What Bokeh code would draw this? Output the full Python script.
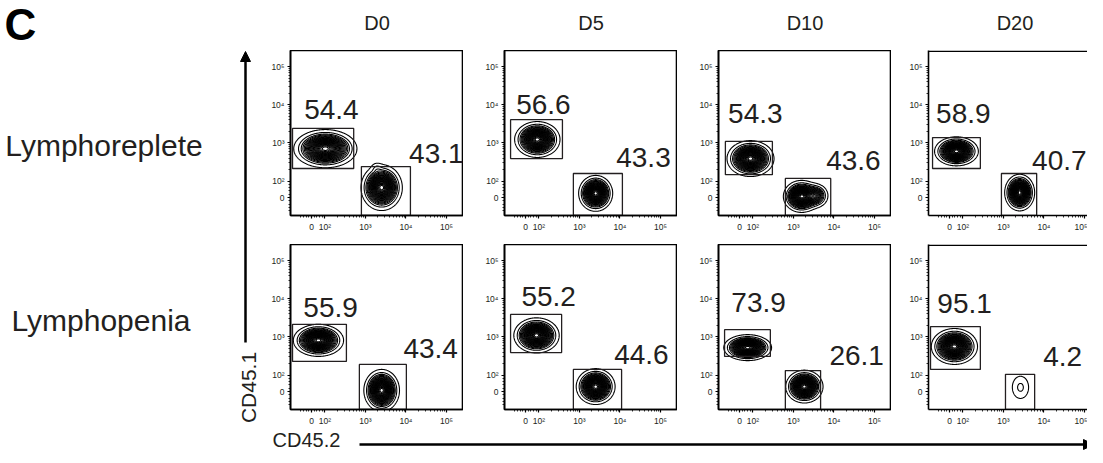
import json
import numpy as np
from bokeh.plotting import figure
from bokeh.layouts import row, column
from bokeh.models import (Range1d, FixedTicker, CustomJSTickFormatter, Arrow,
                          NormalHead, Span)
from bokeh.core.properties import value
from bokeh.embed import file_html
from bokeh.resources import INLINE

# ---------------------------------------------------------------- data
PANEL_LETTER = "C"
DAYS = ["D0", "D5", "D10", "D20"]
CONDITIONS = ["Lymphoreplete", "Lymphopenia"]
X_TITLE = "CD45.2"
Y_TITLE = "CD45.1"

# axis ticks in display (decade) units
X_TICK_POS = [1.67, 2, 3, 4, 5]
Y_TICK_POS = [1.57, 2, 3, 4, 5]
TICK_LABELS = ["0", "10\u00b2", "10\u00b3", "10\u2074", "10\u2075"]

# % in gates  (rows: Lymphoreplete, Lymphopenia ; cols: D0, D5, D10, D20)
PCT_CD451 = [[54.4, 56.6, 54.3, 58.9], [55.9, 55.2, 73.9, 95.1]]
PCT_CD452 = [[43.1, 43.3, 43.6, 40.7], [43.4, 44.6, 26.1, 4.2]]

# gate 1 (CD45.1+ , upper left)
G1_X0 = [[1.20, 1.30, 1.32, 1.25], [1.20, 1.30, 1.30, 1.20]]
G1_X1 = [[2.71, 2.58, 2.48, 2.43], [2.53, 2.56, 2.43, 2.43]]
G1_Y0 = [[2.33, 2.59, 2.17, 2.33], [2.36, 2.59, 2.49, 2.15]]
G1_Y1 = [[3.38, 3.61, 3.04, 3.14], [3.33, 3.59, 3.19, 3.27]]
# gate 2 (CD45.2+ , lower right, open to the axis bottom)
G2_X0 = [[2.90, 2.85, 2.80, 2.95], [2.85, 2.85, 2.80, 3.05]]
G2_X1 = [[4.11, 4.06, 3.92, 3.82], [4.01, 4.04, 3.67, 3.77]]
G2_Y1 = [[2.38, 2.20, 2.07, 2.20], [2.28, 2.15, 2.12, 2.02]]

# population 1: centre and outer-contour radii
P1_CX = [[2.01, 1.96, 1.94, 1.84], [1.84, 1.94, 1.87, 1.79]]
P1_CY = [[2.85, 3.09, 2.59, 2.78], [2.91, 3.04, 2.72, 2.75]]
P1_RX = [[0.78, 0.56, 0.58, 0.54], [0.62, 0.56, 0.59, 0.57]]
P1_RY = [[0.50, 0.47, 0.47, 0.38], [0.42, 0.46, 0.34, 0.47]]
# population 2
P2_CX = [[3.40, 3.40, 3.20, 3.40], [3.40, 3.40, 3.27, 3.42]]
P2_CY = [[1.83, 1.68, 1.60, 1.70], [1.60, 1.70, 1.70, 1.68]]
P2_RX = [[0.51, 0.42, 0.45, 0.37], [0.44, 0.48, 0.46, 0.20]]
P2_RY = [[0.60, 0.47, 0.42, 0.48], [0.55, 0.47, 0.43, 0.29]]
P2_FEW_EVENTS = [[False, False, False, False], [False, False, False, True]]
# extra density lobes: (row, col, population, cx, cy, rx, ry, weight)
LOBES = [(0, 0, 2, 3.28, 2.35, 0.20, 0.20, 0.05),
         (0, 2, 2, 3.55, 1.62, 0.35, 0.35, 0.40)]

# label positions
L1_X = [[2.16, 2.11, 2.06, 2.01], [2.14, 2.24, 2.14, 2.04]]
L1_Y = [[3.87, 4.01, 3.77, 3.77], [3.77, 4.06, 3.90, 3.87]]
L2_X = [[4.75, 4.58, 4.48, 4.38], [4.61, 4.53, 4.56, 4.46]]
L2_Y = [[2.72, 2.62, 2.54, 2.54], [2.70, 2.54, 2.51, 2.49]]

# ---------------------------------------------------------------- style / layout
FONT = value("Liberation Sans")
INK = "#231f20"
FRAME_W, FRAME_H = 173, 165
X_LO, X_HI = 1.15, 5.42
Y_LO, Y_HI = 1.10, 5.42
PXD = FRAME_W / (X_HI - X_LO)
PAGE_L, PAGE_R = 8, 1095
LEFT_RIGHT = 268
COL_FRAME_LEFT = [298, 512, 726, 936]
ROW_BORDER_BOTTOM = [29, 16]
HEADER_H = 50
BOTTOM_H = 22

LEVELS_FULL = [0.03, 0.08] + list(np.linspace(0.13, 0.97, 22))
LEVELS_FEW = [0.10, 0.75]

MINOR_X = [np.log10(k) + d for d in (2, 3, 4) for k in range(2, 10)] + \
          [X_TICK_POS[0] + f * (2 - X_TICK_POS[0]) for f in (-0.8, -0.6, -0.4, -0.2, 0.2, 0.4, 0.6, 0.8)]
MINOR_Y = [np.log10(k) + d for d in (2, 3, 4) for k in range(2, 10)] + \
          [Y_TICK_POS[0] + f * (2 - Y_TICK_POS[0]) for f in (-0.8, -0.6, -0.4, -0.2, 0.2, 0.4, 0.6, 0.8)]


def formatter(pos):
    mp = {"%.3f" % p: lab for p, lab in zip(pos, TICK_LABELS)}
    code = "const m = %s; const k = tick.toFixed(3); return (k in m) ? m[k] : '';" % json.dumps(mp)
    return CustomJSTickFormatter(code=code)


GX = np.linspace(1.0, 5.6, 369)
GY = np.linspace(1.0, 5.6, 369)
MX, MY = np.meshgrid(GX, GY)


def density(comps, lvl0):
    k = np.sqrt(-2 * np.log(lvl0))
    z = np.zeros_like(MX)
    for cx, cy, rx, ry, w in comps:
        sx, sy = rx / k, ry / k
        z += w * np.exp(-0.5 * (((MX - cx) / sx) ** 2 + ((MY - cy) / sy) ** 2))
    return z / z.max()


def style_axis(ax, pos, minor):
    ax.ticker = FixedTicker(ticks=pos, minor_ticks=minor)
    ax.formatter = formatter(pos)
    ax.axis_line_width = 1.6
    ax.axis_line_color = "black"
    ax.major_tick_line_width = 1.2
    ax.major_tick_out = 3
    ax.major_tick_in = 0
    ax.minor_tick_out = 2
    ax.minor_tick_in = 0
    ax.minor_tick_line_width = 0.8
    ax.major_label_standoff = 3
    ax.major_label_text_font = "Liberation Sans"
    ax.major_label_text_font_size = "8.5px"
    ax.major_label_text_color = INK


def make_panel(r, c):
    start = LEFT_RIGHT if c == 0 else COL_FRAME_LEFT[c - 1] + FRAME_W
    bl = COL_FRAME_LEFT[c] - start
    fw = min(FRAME_W, PAGE_R - COL_FRAME_LEFT[c])
    p = figure(frame_width=fw, frame_height=FRAME_H,
               x_range=Range1d(X_LO, X_LO + fw / PXD), y_range=Range1d(Y_LO, Y_HI),
               min_border_left=bl, min_border_right=0, min_border_top=0,
               min_border_bottom=ROW_BORDER_BOTTOM[r],
               output_backend="svg", toolbar_location=None,
               background_fill_color="white", border_fill_color="white")
    p.grid.visible = False
    style_axis(p.xaxis[0], X_TICK_POS, MINOR_X)
    style_axis(p.yaxis[0], Y_TICK_POS, MINOR_Y)
    if fw == FRAME_W:
        p.outline_line_color = "black"
        p.outline_line_width = 1.6
    else:
        p.outline_line_color = None
        p.add_layout(Span(location=Y_HI - 0.02, dimension="width",
                          line_color="black", line_width=1.6))

    comps1 = [(P1_CX[r][c], P1_CY[r][c], P1_RX[r][c], P1_RY[r][c], 1.0)]
    comps2 = [(P2_CX[r][c], P2_CY[r][c], P2_RX[r][c], P2_RY[r][c], 1.0)]
    for lr, lc, lp, cx, cy, rx, ry, w in LOBES:
        if lr == r and lc == c:
            (comps1 if lp == 1 else comps2).append((cx, cy, rx, ry, w))
    lv2 = LEVELS_FEW if P2_FEW_EVENTS[r][c] else LEVELS_FULL
    p.contour(GX, GY, density(comps1, LEVELS_FULL[0]), LEVELS_FULL,
              line_color="black", line_width=1.1)
    p.contour(GX, GY, density(comps2, lv2[0]), lv2,
              line_color="black", line_width=1.1)

    p.quad(left=[G1_X0[r][c]], right=[G1_X1[r][c]], bottom=[G1_Y0[r][c]], top=[G1_Y1[r][c]],
           fill_color=None, line_color=INK, line_width=1.3)
    p.quad(left=[G2_X0[r][c]], right=[G2_X1[r][c]], bottom=[Y_LO], top=[G2_Y1[r][c]],
           fill_color=None, line_color=INK, line_width=1.3)
    p.text(x=[L1_X[r][c], L2_X[r][c]], y=[L1_Y[r][c], L2_Y[r][c]],
           text=["%.1f" % PCT_CD451[r][c], "%.1f" % PCT_CD452[r][c]],
           text_font=FONT, text_font_size="28px", text_color=INK,
           text_align="center", text_baseline="middle")
    return p


def blank(w, h, xr, yr):
    f = figure(width=w, height=h, x_range=Range1d(*xr), y_range=Range1d(*yr),
               min_border=0, output_backend="svg", toolbar_location=None,
               x_axis_location=None, y_axis_location=None,
               background_fill_color="white", border_fill_color="white")
    f.grid.visible = False
    f.outline_line_color = None
    return f


total_w = PAGE_R - PAGE_L
# header
hdr = blank(total_w, HEADER_H, (PAGE_L, PAGE_R), (PAGE_L + HEADER_H, PAGE_L))
hdr.text(x=[12], y=[32], text=[PANEL_LETTER], text_font=FONT, text_font_style="bold",
         text_font_size="44px", text_color="black", text_align="left", text_baseline="alphabetic")
hdr.text(x=[cl + FRAME_W / 2 for cl in COL_FRAME_LEFT], y=[30.5] * 4, text=DAYS,
         text_font=FONT, text_font_size="20px", text_color=INK,
         text_align="center", text_baseline="middle")

panels = [[make_panel(r, c) for c in range(4)] for r in range(2)]
mid_h = sum(FRAME_H + b for b in ROW_BORDER_BOTTOM)
top_mid = PAGE_L + HEADER_H
left = blank(LEFT_RIGHT - PAGE_L, mid_h, (PAGE_L, LEFT_RIGHT), (top_mid + mid_h, top_mid))
left.text(x=[111.5, 108.5], y=[153, 328], text=CONDITIONS, text_font=FONT,
          text_font_size="30px", text_color=INK, text_align="center", text_baseline="middle")
left.add_layout(Arrow(end=NormalHead(size=10, fill_color="black", line_color="black"),
                      x_start=253, y_start=350, x_end=253, y_end=59,
                      line_width=2.5, line_color="black"))
left.text(x=[256], y=[395], text=[Y_TITLE], angle=np.pi / 2, text_font=FONT,
          text_font_size="21px", text_color=INK, text_align="center", text_baseline="middle")

top_bot = top_mid + mid_h
bot = blank(total_w, BOTTOM_H, (PAGE_L, PAGE_R), (top_bot + BOTTOM_H, top_bot))
bot.text(x=[280], y=[444], text=[X_TITLE], text_font=FONT, text_font_size="20px",
         text_color=INK, text_align="left", text_baseline="middle")
bot.add_layout(Arrow(end=NormalHead(size=10, fill_color="black", line_color="black"),
                     x_start=367, y_start=449, x_end=1101, y_end=449,
                     line_width=2.5, line_color="black"))

layout = column(hdr, row(left, column(row(*panels[0]), row(*panels[1]))), bot)

open("out.html", "w", encoding="utf-8").write(file_html(layout, INLINE))
